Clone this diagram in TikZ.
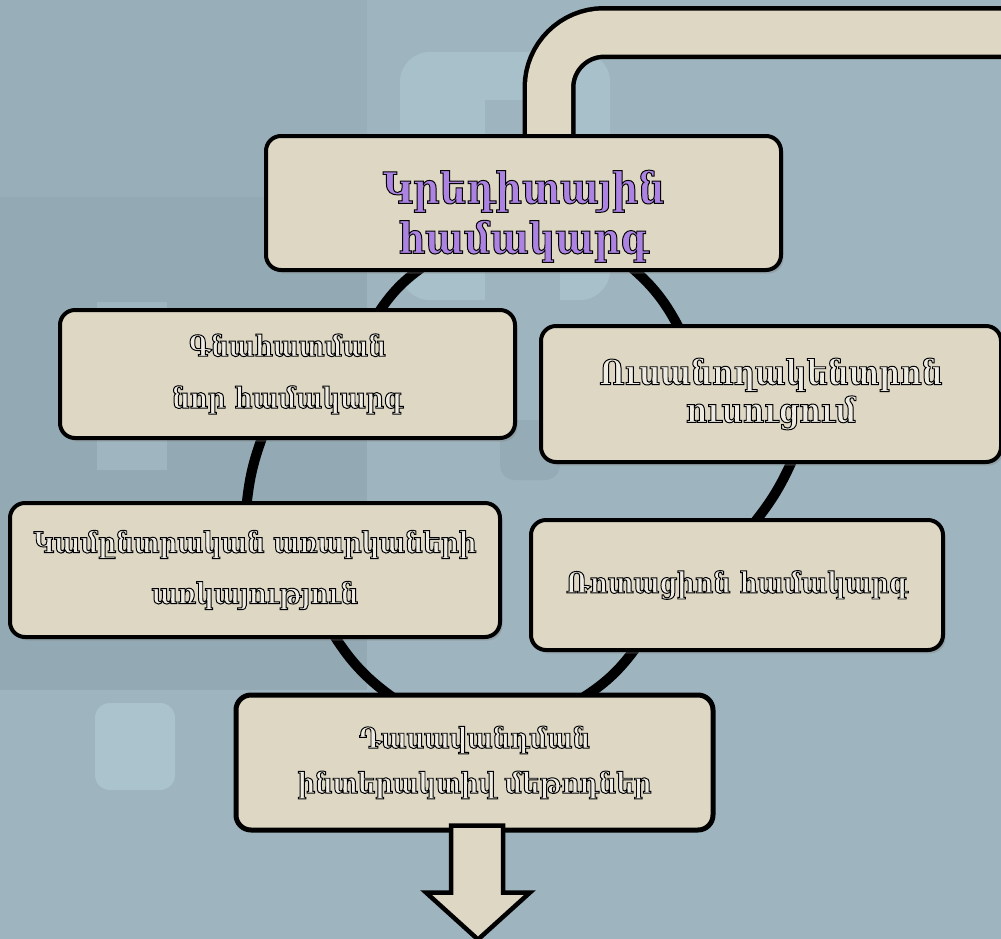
\documentclass[tikz,border=0pt]{standalone}
\usepackage{fontspec}
\newfontfamily\armfont{DejaVu Serif}[FakeStretch=0.85]
\usepackage{xcolor}
\definecolor{bgmain}{RGB}{158, 181, 192}
\definecolor{bgdark}{RGB}{141, 163, 174}
\definecolor{bglight}{RGB}{171, 195, 205}
\definecolor{boxfill}{RGB}{221, 215, 196}
\definecolor{boxmid}{RGB}{236, 232, 218}
\definecolor{boxhi}{RGB}{252, 251, 245}
\definecolor{txtpurple}{RGB}{172, 130, 226}
\definecolor{txtpale}{RGB}{238, 235, 226}
\usepackage{tikz}
\usetikzlibrary{arrows.meta, positioning, calc, shadows, backgrounds}
\pgfdeclareverticalshading{bevel}{100bp}{color(0bp)=(boxfill); color(76bp)=(boxfill); color(88bp)=(boxmid); color(100bp)=(boxhi)}
% hollow letters: fill with the text colour, stroke in black
\newcommand{\outl}[1]{\special{pdf:literal direct 0 0 0 RG 0.55 w 2 Tr}#1\special{pdf:literal direct 0 Tr}}

\begin{document}
\begin{tikzpicture}[
    card/.style={draw=black, line width=0.08cm, rounded corners=0.3cm, shading=bevel,
        drop shadow={shadow xshift=0.05cm, shadow yshift=-0.07cm, opacity=0.35},
        align=center, text=txtpale},
    plaincard/.style={draw=black, line width=0.1cm, rounded corners=0.3cm, fill=boxfill,
        align=center, text=txtpale},
    link/.style={line width=0.2cm, black},
    pipe/.style={line width=0.09cm, double=boxfill, double distance=0.88cm, rounded corners=1.1cm}]

    \useasboundingbox (0,0) rectangle (20.02,-18.78);

    % backdrop
    \begin{scope}[on background layer]
        \fill[bgmain] (0,0) rectangle (20.02,-18.78);
        \fill[bgdark, opacity=0.35] (0,0) rectangle (7.34,-3.94);
        \fill[bgdark, opacity=0.6] (0,-3.94) rectangle (7.34,-13.8);
        \fill[bglight, opacity=0.8, rounded corners=0.6cm] (8.0,-1.04) rectangle (12.2,-6.0);
        \fill[bgmain] (9.7,-2.0) rectangle (11.2,-6.0);
        \fill[bglight, opacity=0.5] (1.94,-6.04) rectangle (3.34,-9.4);
        \fill[bgdark, opacity=0.5, rounded corners=0.3cm] (10.0,-8.4) rectangle (11.2,-9.6);
        \fill[bglight, rounded corners=0.3cm] (1.9,-14.06) rectangle (3.5,-15.8);
    \end{scope}

    \node[card, minimum width=10.3cm, minimum height=2.68cm, text=txtpurple,
        font=\armfont\bfseries\fontsize{24.5}{28.5}\selectfont] (crtop) at (10.47,-4.06)
        {\rule{0pt}{34pt}\outl{Կրեդիտային}\\\outl{համակարգ}};
    \node[card, minimum width=9.1cm, minimum height=2.56cm,
        font=\armfont\bfseries\fontsize{16.5}{29.5}\selectfont] (gnah) at (5.75,-7.48)
        {\outl{Գնահատման}\\\outl{նոր համակարգ}};
    \node[card, minimum width=9.2cm, minimum height=2.72cm,
        font=\armfont\bfseries\fontsize{19.5}{21.5}\selectfont] (uus) at (15.42,-7.88)
        {\outl{Ուսանողակենտրոն}\\\outl{ուսուցում}};
    \node[card, minimum width=9.8cm, minimum height=2.68cm,
        font=\armfont\bfseries\fontsize{16.5}{29}\selectfont] (kam) at (5.10,-11.40)
        {\outl{Կամընտրական առարկաների}\\\outl{առկայություն}};
    \node[card, minimum width=8.24cm, minimum height=2.6cm,
        font=\armfont\bfseries\fontsize{16.5}{20}\selectfont] (rot) at (14.74,-11.70)
        {\outl{Ռոտացիոն համակարգ}};
    \node[plaincard, minimum width=9.54cm, minimum height=2.7cm,
        font=\armfont\bfseries\fontsize{16.2}{25.6}\selectfont] (dv) at (9.49,-15.25)
        {\outl{Դասավանդման}\\\outl{ինտերակտիվ մեթոդներ}};

    \begin{scope}[on background layer]
        \draw[pipe] ([xshift=0.51cm, yshift=-0.4cm]crtop.north) |- (20.6,-0.65);
        \draw[link] ([xshift=-1.87cm, yshift=0.2cm]crtop.south) to[bend right=12] ([xshift=1.75cm, yshift=-0.2cm]gnah.north);
        \draw[link] ([xshift=-0.45cm, yshift=0.2cm]gnah.south) to[bend right=8] ([xshift=-0.18cm, yshift=-0.2cm]kam.north);
        \draw[link] ([xshift=1.5cm, yshift=0.2cm]kam.south) to[bend right=12] ([xshift=-1.49cm, yshift=-0.2cm]dv.north);
        \draw[link] ([xshift=2.01cm, yshift=-0.2cm]dv.north) to[bend right=12] ([xshift=-1.94cm, yshift=0.2cm]rot.south);
        \draw[link] ([xshift=0.26cm, yshift=-0.2cm]rot.north) to[bend right=8] ([xshift=0.48cm, yshift=0.2cm]uus.south);
        \draw[link] ([xshift=-1.78cm, yshift=-0.2cm]uus.north) to[bend right=12] ([xshift=2.03cm, yshift=0.2cm]crtop.south);
    \end{scope}

    % down arrow under the last box
    \draw[line width=0.09cm, fill=boxfill, line join=miter] ([xshift=-0.47cm, yshift=0.14cm]dv.south) -- ++(0,-1.34) -- ++(-0.5,0)
        -- ++(1.04,-0.94) -- ++(1.04,0.94) -- ++(-0.54,0) -- ++(0,1.34) -- cycle;
\end{tikzpicture}
\end{document}
